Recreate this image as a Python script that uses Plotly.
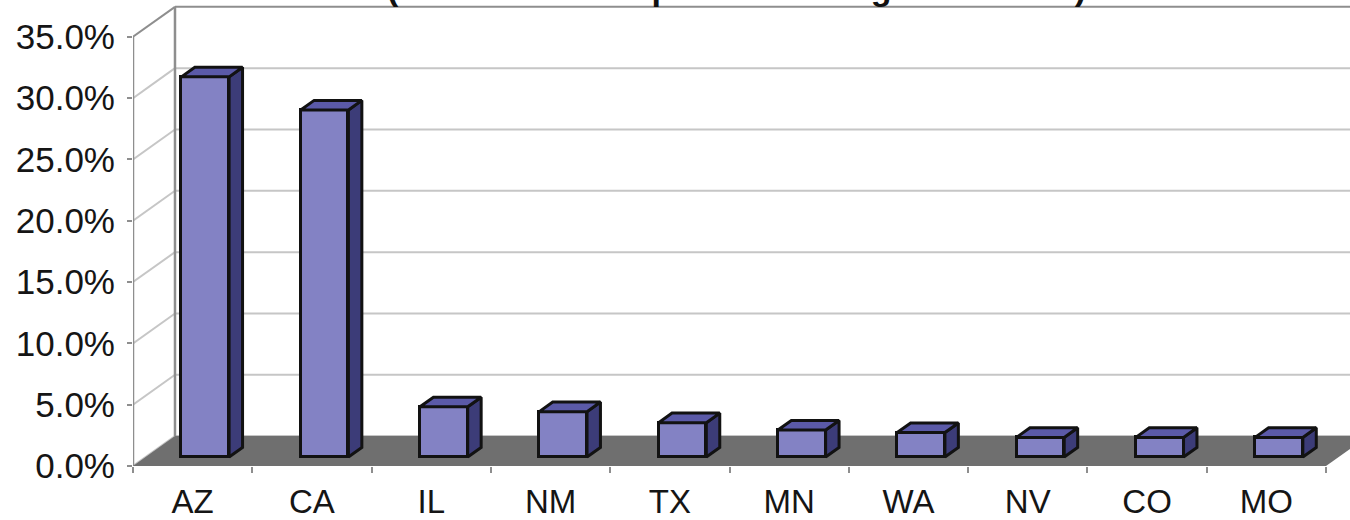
import plotly.graph_objects as go

# State shares (percent)
states = ["AZ", "CA", "IL", "NM", "TX", "MN", "WA", "NV", "CO", "MO"]
shares = [31.0, 28.3, 4.1, 3.7, 2.8, 2.2, 2.0, 1.6, 1.6, 1.6]
y_ticks = [0, 5, 10, 15, 20, 25, 30, 35]
y_tick_text = ["0.0%", "5.0%", "10.0%", "15.0%", "20.0%", "25.0%", "30.0%", "35.0%"]
title_text = "(65 Percent in top ten receiving U.S. states)"

# pseudo-3D projection: full floor depth in axis units
DEPTH_X = 0.352   # category units
DEPTH_Y = 2.44    # percent units
FRONT = 0.30      # depth fraction of the bar front faces
BAR_D = 0.32      # depth fraction occupied by each bar
BAR_W = 0.40      # bar width in category units

X_MIN, X_MAX = -0.5, 9.701
Y_MIN, Y_MAX = 0.0, 38.0

FACE = "#8382c4"
SIDE = "#3c3c78"
TOP = "#5b5aa8"
EDGE = "#121212"
FLOOR = "#6f6f6f"
WALL = "#8e8e8e"
GRID = "#c6c6c6"

n = len(states)
fx = FRONT * DEPTH_X
fy = FRONT * DEPTH_Y
dx = BAR_D * DEPTH_X
dy = BAR_D * DEPTH_Y
x_front = [i + fx for i in range(n)]

fig = go.Figure()

# front faces
fig.add_trace(go.Bar(
    x=x_front, y=shares, base=[fy] * n, width=BAR_W,
    marker=dict(color=FACE, line=dict(color=EDGE, width=3)),
    hoverinfo="skip", showlegend=False,
))

# right side faces
for xc, v in zip(x_front, shares):
    xr = xc + BAR_W / 2
    top = fy + v
    fig.add_trace(go.Scatter(
        x=[xr, xr + dx, xr + dx, xr, xr],
        y=[fy, fy + dy, top + dy, top, fy],
        mode="lines", fill="toself", fillcolor=SIDE,
        line=dict(color=EDGE, width=3),
        hoverinfo="skip", showlegend=False,
    ))

# top faces
for xc, v in zip(x_front, shares):
    xl = xc - BAR_W / 2
    xr = xc + BAR_W / 2
    top = fy + v
    fig.add_trace(go.Scatter(
        x=[xl, xl + dx, xr + dx, xr, xl],
        y=[top, top + dy, top + dy, top, top],
        mode="lines", fill="toself", fillcolor=TOP,
        line=dict(color=EDGE, width=3),
        hoverinfo="skip", showlegend=False,
    ))

shapes = []
bx = X_MIN + DEPTH_X          # back wall left edge
# back wall gridlines and side wall diagonals
for t in y_ticks:
    col = GRID if t != y_ticks[-1] else WALL
    shapes.append(dict(type="line", xref="x", yref="y", layer="between",
                       x0=bx, x1=X_MAX + 1, y0=t + DEPTH_Y, y1=t + DEPTH_Y,
                       line=dict(color=col, width=2)))
    shapes.append(dict(type="line", xref="x", yref="y", layer="between",
                       x0=X_MIN, x1=bx, y0=t, y1=t + DEPTH_Y,
                       line=dict(color=col, width=2)))
# wall edges
shapes.append(dict(type="line", xref="x", yref="y", layer="between",
                   x0=bx, x1=bx, y0=DEPTH_Y, y1=y_ticks[-1] + DEPTH_Y,
                   line=dict(color=WALL, width=2.5)))
shapes.append(dict(type="line", xref="x", yref="y", layer="between",
                   x0=X_MIN, x1=X_MIN, y0=0, y1=y_ticks[-1],
                   line=dict(color=WALL, width=2.5)))
# floor
x_end = n - 0.5
shapes.append(dict(type="path", xref="x", yref="y", layer="between",
                   path=f"M {X_MIN},0 L {x_end},0 L {x_end + DEPTH_X},{DEPTH_Y} "
                        f"L {bx},{DEPTH_Y} Z",
                   fillcolor=FLOOR, line=dict(width=0)))

fig.update_layout(
    width=1350, height=520,
    margin=dict(l=133, r=0, t=0, b=52),
    paper_bgcolor="white", plot_bgcolor="white",
    font=dict(family="Liberation Sans, Arial, sans-serif", color="#151515"),
    shapes=shapes,
    showlegend=False,
    bargap=0,
    annotations=[dict(
        text=f"<b>{title_text}</b>", xref="paper", yref="paper",
        x=(385 - 133) / 1217, y=1, xanchor="left", yanchor="bottom",
        yshift=-9, showarrow=False,
        font=dict(size=34, color="#111111", family="Liberation Sans, Arial, sans-serif"),
    )],
    xaxis=dict(
        range=[X_MIN, X_MAX], showgrid=False, zeroline=False, showline=False,
        tickmode="array", tickvals=list(range(n)), ticktext=states,
        ticks="", tickfont=dict(size=33), ticklabelstandoff=13,
        minor=dict(tickmode="array", tickvals=[i - 0.5 for i in range(n + 1)],
                   ticks="outside", ticklen=6, tickcolor=WALL, tickwidth=2),
        fixedrange=True,
    ),
    yaxis=dict(
        range=[Y_MIN, Y_MAX], showgrid=False, zeroline=False, showline=False,
        tickmode="array", tickvals=y_ticks, ticktext=y_tick_text,
        ticks="outside", ticklen=5, tickcolor=WALL, tickwidth=2,
        tickfont=dict(size=35), ticklabelstandoff=5,
        fixedrange=True,
    ),
)

fig.write_html("out.html")
